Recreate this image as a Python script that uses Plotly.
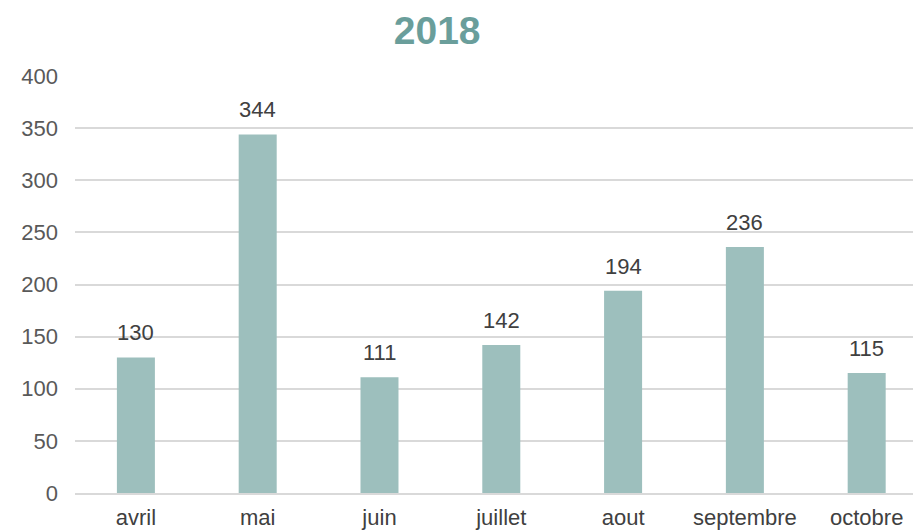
import plotly.graph_objects as go

months = ["avril", "mai", "juin", "juillet", "aout", "septembre", "octobre"]
values = [130, 344, 111, 142, 194, 236, 115]
y_ticks = [0, 50, 100, 150, 200, 250, 300, 350, 400]

FONT = "Liberation Sans, Arial"

fig = go.Figure(go.Bar(
    x=months, y=values,
    marker=dict(color="#9DBFBD", line=dict(width=0)),
    hoverinfo="x+y",
))

for m, v in zip(months, values):
    fig.add_annotation(x=m, y=v, text=str(v), showarrow=False,
                       xanchor="center", yanchor="bottom", yshift=10,
                       font=dict(family=FONT, size=22, color="#404040"))

fig.update_layout(
    width=921, height=532,
    paper_bgcolor="white", plot_bgcolor="white",
    margin=dict(l=67, r=8, t=68, b=47),
    bargap=0.688,
    showlegend=False,
    title=dict(text="<b>2018</b>", xref="container", x=0.466, xanchor="center",
               yref="container", y=0.958, yanchor="middle",
               font=dict(family=FONT, size=39, color="#6A9E9B")),
    font=dict(family=FONT, size=22, color="#595959"),
)
fig.update_xaxes(range=[-0.5, 6.446], showgrid=False, showline=True, linecolor="#D9D9D9",
                 linewidth=1.5, ticks="", ticklabelstandoff=4,
                 tickfont=dict(family=FONT, size=22, color="#404040"))
fig.update_yaxes(range=[0, 400], tickvals=y_ticks, showgrid=True, gridcolor="#D9D9D9",
                 gridwidth=1.5, zeroline=False, showline=False, ticks="",
                 ticklabelstandoff=16,
                 tickfont=dict(family=FONT, size=22, color="#595959"))

fig.write_html("out.html")
